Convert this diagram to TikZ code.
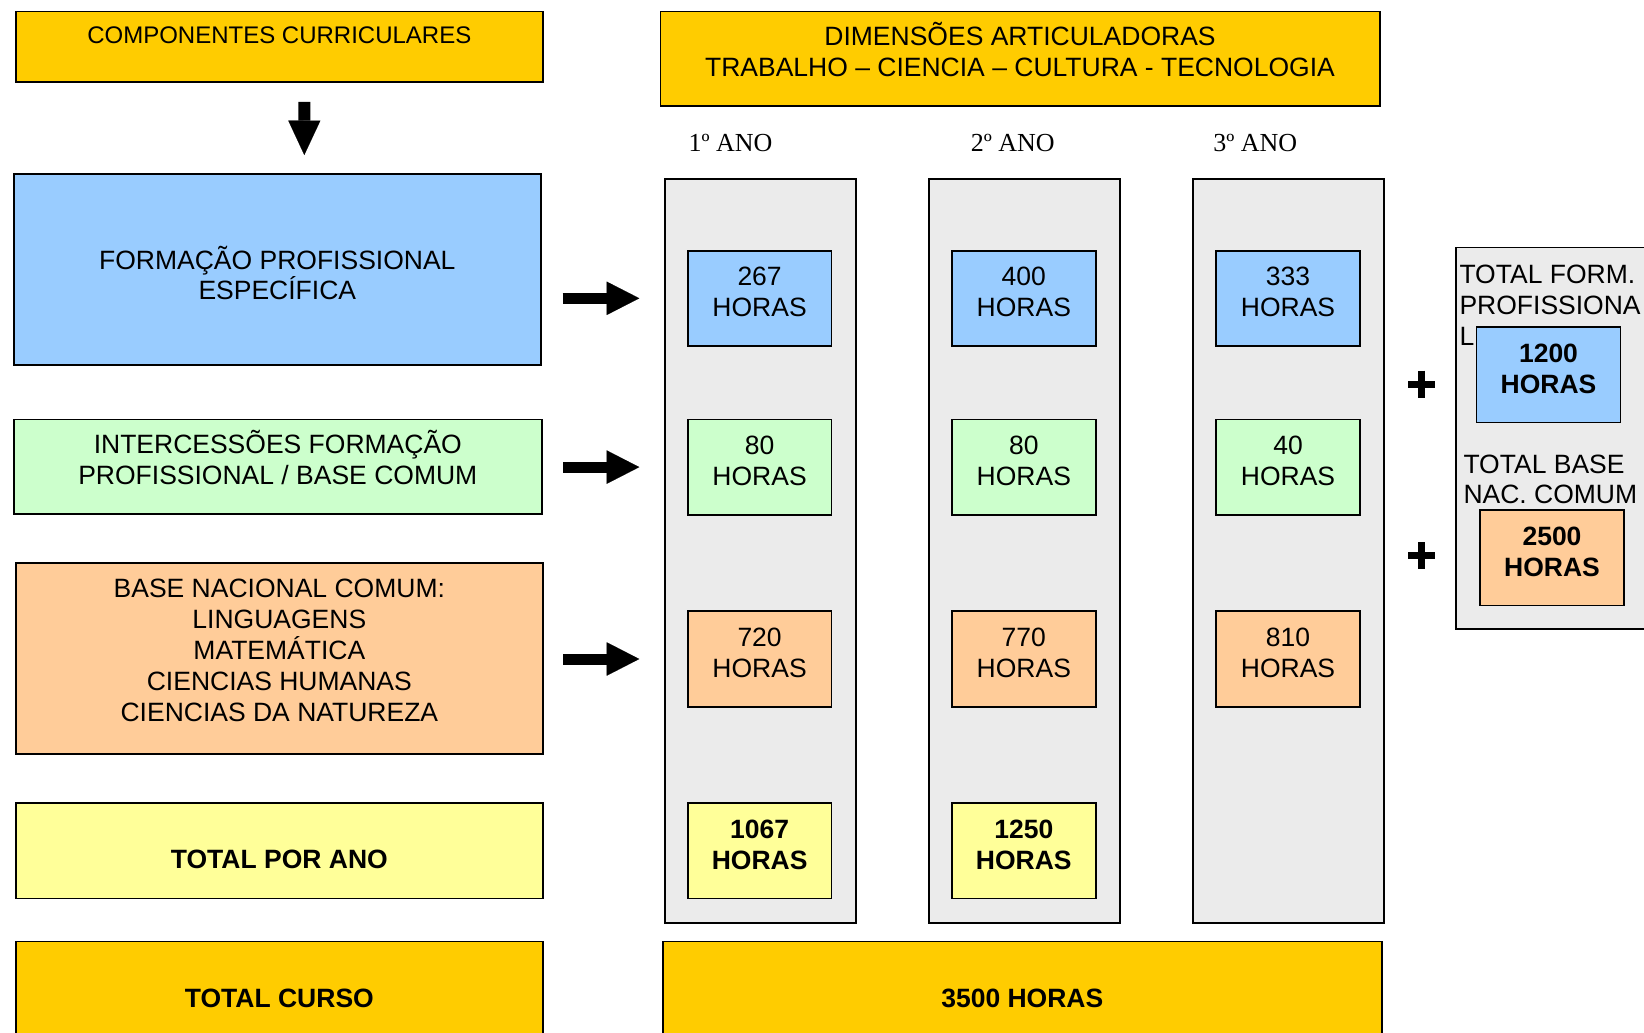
\documentclass[tikz,border=0pt]{standalone}
\usepackage{fontspec}
\setmainfont{Liberation Sans}
\newfontfamily\serifan{Liberation Serif}
\usetikzlibrary{arrows.meta,calc}
\definecolor{cgold}{HTML}{FFCC00}
\definecolor{cblue}{HTML}{99CCFF}
\definecolor{cgreen}{HTML}{CCFFCC}
\definecolor{corange}{HTML}{FFCC99}
\definecolor{cyellow}{HTML}{FFFF99}
\definecolor{cgray}{HTML}{EBEBEB}
\newcommand\mkbox[6]{\node[box,fill=#6,minimum width={#4-#2},minimum height={#5-#3}] (#1) at ({(#2+#4)/2},{(#3+#5)/2}) {};}
\newcommand\cell[6]{%
 \node[box,fill=#4,minimum width=143.6,minimum height=95.4] (#1) at ({#2+71.8},{#3+47.7}) {};
 \node[txt,#6] (#1-a) at ({#2+71.8},{#3+35.3}) {#5};
 \node[txt,#6] (#1-b) at ({#2+71.8},{#3+66}) {HORAS};}
\begin{document}
\begin{tikzpicture}[x=1pt,y=-1pt,
  box/.style={draw=black,line width=1.8pt,inner sep=0pt,outer sep=0pt},
  txt/.style={inner sep=0pt,outer sep=0pt,anchor=base},
  nf/.style={font=\fontsize{26.5}{30}\selectfont},
  bf/.style={font=\fontsize{26.5}{30}\selectfont\bfseries},
  sf/.style={font=\fontsize{26}{30}\selectfont\serifan},
  bigarrow/.style={line width=11pt,-{Triangle[length=32.6pt,width=33.4pt,line width=0.1pt]}},
  downarrow/.style={line width=12pt,-{Triangle[length=34.3pt,width=32pt,line width=0.1pt]}}]
\useasboundingbox (0,0) rectangle (1644,1033);
\clip (0,0) rectangle (1644,1033);
\fill[white] (0,0) rectangle (1644,1033);
% left column
\mkbox{comp}{15.7}{11.5}{543}{81.8}{cgold}
\mkbox{fps}{13.6}{174}{541}{364.9}{cblue}
\mkbox{inter}{13.6}{419.4}{542}{513.8}{cgreen}
\mkbox{bnc}{15.7}{563}{543}{753.9}{corange}
\mkbox{tpa}{15.7}{803.1}{543}{898.5}{cyellow}
\mkbox{tcu}{15.7}{941.5}{543}{1045}{cgold}
% right part
\mkbox{dim}{660.5}{11.5}{1379.8}{105.9}{cgold}
\mkbox{col1}{664.7}{179.3}{855.6}{922.7}{cgray}
\mkbox{col2}{929}{179.3}{1119.8}{922.7}{cgray}
\mkbox{col3}{1193.2}{179.3}{1384}{922.7}{cgray}
\mkbox{hor}{662.6}{941.5}{1382}{1045}{cgold}
\mkbox{tot}{1456.3}{247.4}{1660}{629}{cgray}
% texts left
\node[txt,font=\fontsize{24}{28}\selectfont] (t-comp) at (279.35,43.3) {COMPONENTES CURRICULARES};
\node[txt,nf] (t-fps1) at (277.3,269.3) {FORMAÇÃO PROFISSIONAL};
\node[txt,nf] (t-fps2) at (277.3,299.7) {ESPECÍFICA};
\node[txt,nf] (t-int1) at (277.8,453.9) {INTERCESSÕES FORMAÇÃO};
\node[txt,nf] (t-int2) at (277.8,484.3) {PROFISSIONAL / BASE COMUM};
\node[txt,nf] (t-bnc1) at (279.35,597.5) {BASE NACIONAL COMUM:};
\node[txt,nf] (t-bnc2) at (279.35,628.4) {LINGUAGENS};
\node[txt,nf] (t-bnc3) at (279.35,659.3) {MATEMÁTICA};
\node[txt,nf] (t-bnc4) at (279.35,690.2) {CIENCIAS HUMANAS};
\node[txt,nf] (t-bnc5) at (279.35,721.1) {CIENCIAS DA NATUREZA};
\node[txt,bf] (t-tpa) at (279.35,868) {TOTAL POR ANO};
\node[txt,bf] (t-tcu) at (279.35,1007.5) {TOTAL CURSO};
% texts right
\node[txt,nf] (t-dim1) at (1020,46) {DIMENSÕES ARTICULADORAS};
\node[txt,nf] (t-dim2) at (1020,76.4) {TRABALHO – CIENCIA – CULTURA - TECNOLOGIA};
\node[txt,sf] (ano1) at (730.5,151) {1º ANO};
\node[txt,sf] (ano2) at (1012.8,151) {2º ANO};
\node[txt,sf] (ano3) at (1255.3,151) {3º ANO};
\node[txt,bf] (t-hor) at (1022.3,1007.5) {3500 HORAS};
% cells
\cell{r11}{687.8}{250.6}{cblue}{267}{nf}
\cell{r12}{952}{250.6}{cblue}{400}{nf}
\cell{r13}{1216.2}{250.6}{cblue}{333}{nf}
\cell{r21}{687.8}{419.4}{cgreen}{80}{nf}
\cell{r22}{952}{419.4}{cgreen}{80}{nf}
\cell{r23}{1216.2}{419.4}{cgreen}{40}{nf}
\cell{r31}{687.8}{611.3}{corange}{720}{nf}
\cell{r32}{952}{611.3}{corange}{770}{nf}
\cell{r33}{1216.2}{611.3}{corange}{810}{nf}
\cell{r41}{687.8}{803.1}{cyellow}{1067}{bf}
\cell{r42}{952}{803.1}{cyellow}{1250}{bf}
% totals box
\node[txt,nf,anchor=base west] (t-tf1) at (1459.5,283.3) {TOTAL FORM.};
\node[txt,nf,anchor=base west] (t-tf2) at (1459.5,314.3) {PROFISSIONA};
\node[txt,nf,anchor=base west] (t-tf3) at (1459.5,345) {L};
\node[txt,nf,anchor=base west] (t-tb1) at (1463.5,473) {TOTAL BASE};
\node[txt,nf,anchor=base west] (t-tb2) at (1463.5,503.5) {NAC. COMUM};
\node[box,fill=cblue,minimum width=144,minimum height=95.5] (t1200) at (1548.5,374.75) {};
\node[txt,bf] (t1200a) at (1548.5,362.6) {1200};
\node[txt,bf] (t1200b) at (1548.5,393) {HORAS};
\node[box,fill=corange,minimum width=144,minimum height=95.5] (t2500) at (1552,557.75) {};
\node[txt,bf] (t2500a) at (1552,545.6) {2500};
\node[txt,bf] (t2500b) at (1552,576) {HORAS};
% plus signs
\foreach \py in {384.2,555.8}{
  \draw[line width=6.7pt] (1408.2,\py) -- (1435.2,\py);
  \draw[line width=6.7pt] (1421.7,\py-13.5) -- (1421.7,\py+13.5);
}
% arrows
\draw[downarrow] ($(comp.south)+(25,20)$) -- ($(fps.north)+(27,-19)$);
\draw[bigarrow] ($(fps.east |- r11.west)+(21.7,0)$) -- ($(r11.west)+(-48.5,0)$);
\draw[bigarrow] ($(inter.east |- r21.west)+(21,0)$) -- ($(r21.west)+(-48.5,0)$);
\draw[bigarrow] ($(bnc.east |- r31.west)+(20,0)$) -- ($(r31.west)+(-48.5,0)$);
\end{tikzpicture}
\end{document}
